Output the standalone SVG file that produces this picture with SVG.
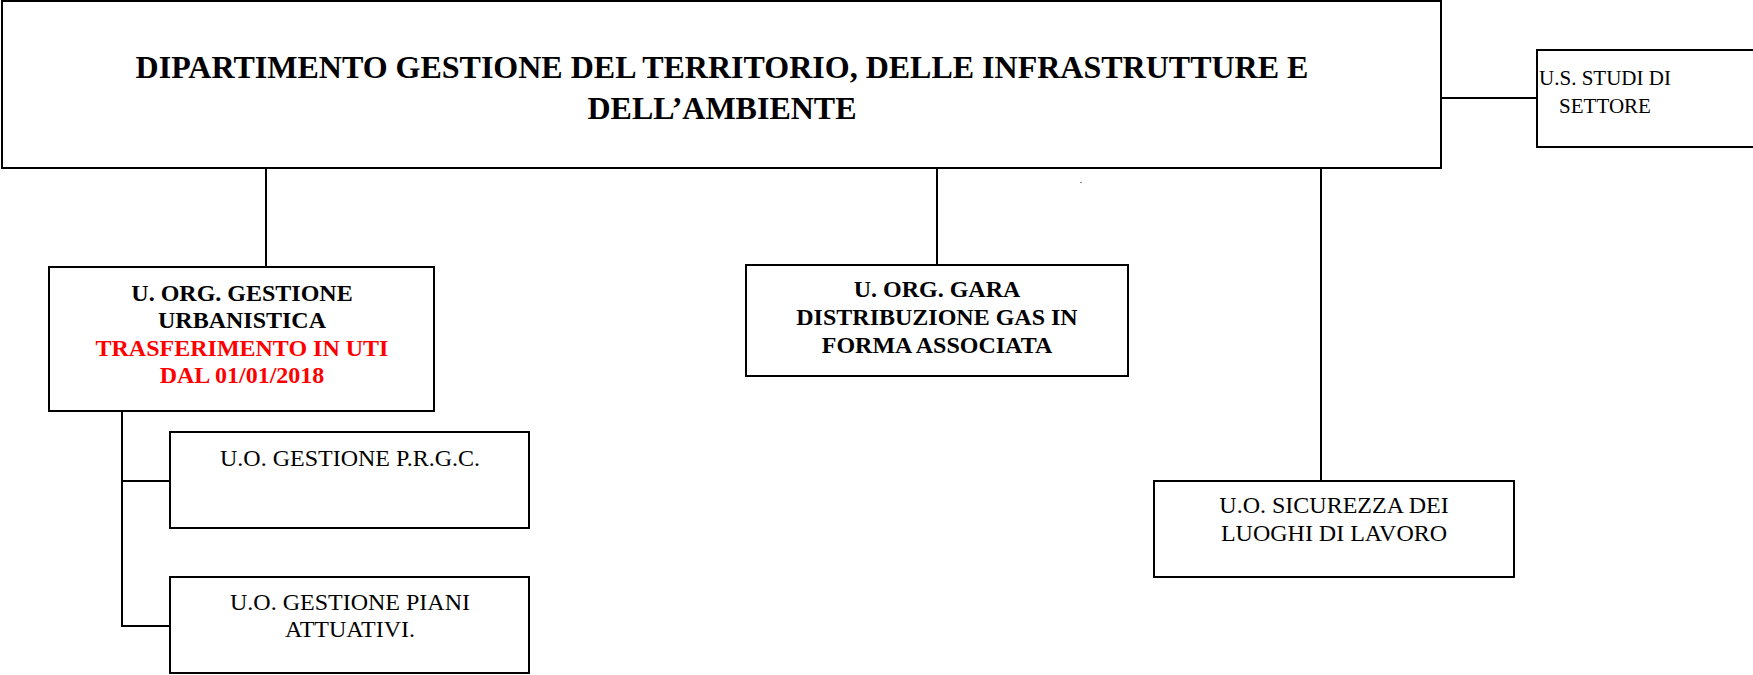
<svg xmlns="http://www.w3.org/2000/svg" width="1753" height="675" viewBox="0 0 1753 675">
<style>
.box{fill:#fff;stroke:#000;stroke-width:2}
.ln{stroke:#000;stroke-width:2;fill:none}
.t{font-family:"Liberation Serif","Times New Roman",serif;font-size:24px;text-anchor:middle;fill:#000}
.b{font-weight:bold}
.title{font-size:32px}
.sm{font-size:21px}
.red{fill:#ff0000}
</style>
<rect width="1753" height="675" fill="#fff"/>
<g id="connectors">
<line class="ln" x1="1441" y1="98" x2="1537" y2="98"/>
<line class="ln" x1="266" y1="168" x2="266" y2="268"/>
<line class="ln" x1="937" y1="168" x2="937" y2="265"/>
<line class="ln" x1="1321" y1="168" x2="1321" y2="481"/>
<line class="ln" x1="122" y1="411" x2="122" y2="627"/>
<line class="ln" x1="122" y1="481" x2="170" y2="481"/>
<line class="ln" x1="122" y1="626" x2="170" y2="626"/>
</g>
<g id="dipartimento">
<rect class="box" x="2" y="1" width="1439" height="167"/>
<text class="t b title" x="722" y="78">DIPARTIMENTO GESTIONE DEL TERRITORIO, DELLE INFRASTRUTTURE E</text>
<text class="t b title" x="722" y="119">DELL’AMBIENTE</text>
</g>
<g id="studi">
<rect class="box" x="1537" y="50" width="230" height="97"/>
<text class="t sm" x="1605" y="85">U.S. STUDI DI</text>
<text class="t sm" x="1605" y="113">SETTORE</text>
</g>
<g id="urbanistica">
<rect class="box" x="49" y="267" width="385" height="144"/>
<text class="t b" x="242" y="301">U. ORG. GESTIONE</text>
<text class="t b" x="242" y="328">URBANISTICA</text>
<text class="t b red" x="242" y="356">TRASFERIMENTO IN UTI</text>
<text class="t b red" x="242" y="383">DAL 01/01/2018</text>
</g>
<g id="prgc">
<rect class="box" x="170" y="432" width="359" height="96"/>
<text class="t" x="350" y="466">U.O. GESTIONE P.R.G.C.</text>
</g>
<g id="piani">
<rect class="box" x="170" y="577" width="359" height="96"/>
<text class="t" x="350" y="610">U.O. GESTIONE PIANI</text>
<text class="t" x="350" y="637">ATTUATIVI.</text>
</g>
<g id="gara">
<rect class="box" x="746" y="265" width="382" height="111"/>
<text class="t b" x="937" y="297">U. ORG. GARA</text>
<text class="t b" x="937" y="325">DISTRIBUZIONE GAS IN</text>
<text class="t b" x="937" y="353">FORMA ASSOCIATA</text>
</g>
<text class="t" x="1081" y="183" style="font-size:10px">.</text>
<g id="sicurezza">
<rect class="box" x="1154" y="481" width="360" height="96"/>
<text class="t" x="1334" y="513">U.O. SICUREZZA DEI</text>
<text class="t" x="1334" y="541">LUOGHI DI LAVORO</text>
</g>
</svg>
